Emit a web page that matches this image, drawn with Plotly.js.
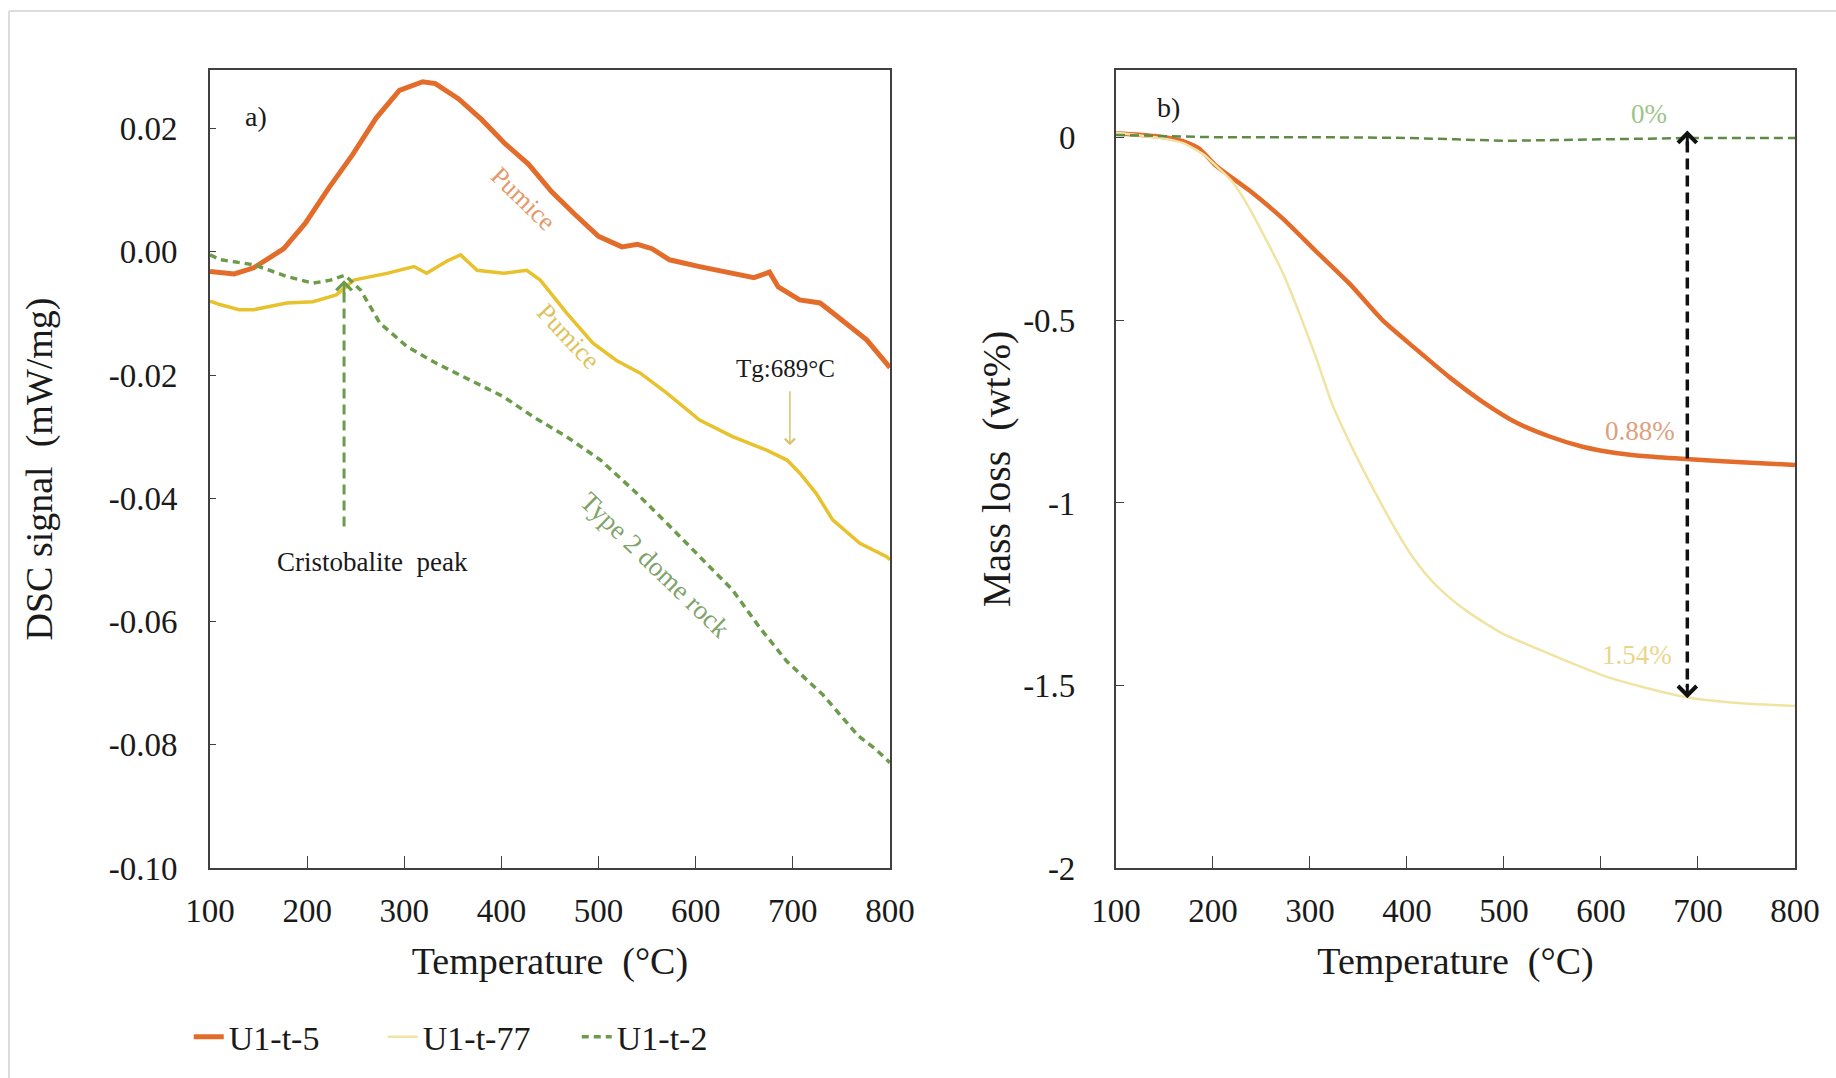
<!DOCTYPE html>
<html><head><meta charset="utf-8">
<script src="https://cdn.plot.ly/plotly-3.0.1.min.js"></script>
<style>html,body{margin:0;padding:0;background:#fff;}#chart{width:1836px;height:1078px;}</style>
</head><body><div id="chart"></div>
<script>
// ---- series names ----
const seriesNames = ["U1-t-5", "U1-t-77", "U1-t-2"];

// ---- a) DSC signal (mW/mg) vs temperature (°C) ----
const dscT_u5 = [100,125,145,160,176,198,222,247,271,295,319,332,356,380,404,428,452,476,500,524,540,555,573,604,638,660,676,685,707,728,741,759,776,800];
const dscV_u5 = [-0.0032,-0.0036,-0.0026,-0.0012,0.0005,0.0046,0.0103,0.0158,0.0217,0.0262,0.0276,0.0273,0.0248,0.0214,0.0175,0.0142,0.0097,0.0060,0.0025,0.0008,0.0012,0.0005,-0.0013,-0.0024,-0.0035,-0.0042,-0.0033,-0.0057,-0.0078,-0.0083,-0.0099,-0.0122,-0.0143,-0.0188];

const dscT_u77 = [100,111,130,145,179,206,230,248,282,310,323,344,358,375,402,426,440,467,494,518,543,570,604,638,673,694,707,724,741,769,797,800];
const dscV_u77 = [-0.0080,-0.0086,-0.0094,-0.0094,-0.0083,-0.0081,-0.0070,-0.0046,-0.0035,-0.0024,-0.0035,-0.0015,-0.0005,-0.0030,-0.0035,-0.0030,-0.0046,-0.0099,-0.0148,-0.0176,-0.0197,-0.0229,-0.0273,-0.0300,-0.0322,-0.0338,-0.0359,-0.0392,-0.0435,-0.0473,-0.0495,-0.0500];

const dscT_u2 = [100,111,145,179,206,224,239,255,275,303,333,368,402,433,467,502,536,570,604,638,666,694,731,767,785,800];
const dscV_u2 = [-0.0005,-0.0013,-0.0021,-0.0040,-0.0051,-0.0046,-0.0038,-0.0062,-0.0116,-0.0154,-0.0181,-0.0208,-0.0235,-0.0268,-0.0300,-0.0338,-0.0387,-0.0440,-0.0495,-0.0549,-0.0610,-0.0665,-0.0719,-0.0785,-0.0807,-0.0829];

// ---- b) Mass loss (wt%) vs temperature (°C) ----
const tgaT_u5 = [100,140,169,186,203,237,272,306,341,375,409,444,478,512,547,581,615,650,700,750,800];
const tgaV_u5 = [0.013,0.005,-0.009,-0.030,-0.076,-0.143,-0.221,-0.310,-0.400,-0.500,-0.578,-0.656,-0.723,-0.779,-0.818,-0.846,-0.863,-0.873,-0.882,-0.889,-0.896];

const tgaT_u77 = [100,150,170,190,203,220,237,255,272,289,306,323,341,358,375,392,409,426,444,461,478,500,535,571,607,644,680,716,752,800];
const tgaV_u77 = [0.014,-0.002,-0.015,-0.045,-0.076,-0.120,-0.190,-0.280,-0.370,-0.480,-0.600,-0.730,-0.835,-0.925,-1.010,-1.090,-1.160,-1.215,-1.260,-1.295,-1.325,-1.360,-1.400,-1.440,-1.477,-1.505,-1.528,-1.542,-1.550,-1.556];

const tgaT_u2 = [100,150,200,300,400,450,500,550,600,650,700,800];
const tgaV_u2 = [0.008,0.004,0.002,0.002,0.000,-0.004,-0.008,-0.006,-0.003,-0.002,0.000,0.000];

// ---- ticks ----
const xTickVals = [100,200,300,400,500,600,700,800];
const xTickText = ["100","200","300","400","500","600","700","800"];
const dscTickVals = [-0.10,-0.08,-0.06,-0.04,-0.02,0.00,0.02];
const dscTickText = ["-0.10","-0.08","-0.06","-0.04","-0.02","0.00","0.02"];
const tgaTickVals = [-2,-1.5,-1,-0.5,0];
const tgaTickText = ["-2","-1.5","-1","-0.5","0"];

// ---- annotation values ----
const cristobaliteT = 238, cristobaliteTop = -0.0046, cristobaliteBottom = -0.0446;
const tgT = 697, tgTop = -0.0224, tgBottom = -0.0314;
const lossT = 689, lossTop = 0.02, lossBottom = -1.535;
const lossLabels = ["0%", "0.88%", "1.54%"];

const FONT = "Liberation Serif, Times New Roman, serif";
const ORANGE = "#E36C2B";
const YELLOW_A = "#E8C22C";
const YELLOW_B = "#F1E3A2";
const GREEN = "#6C9C4B";

const traces = [
  {x: dscT_u5, y: dscV_u5, xaxis:"x", yaxis:"y", type:"scatter", mode:"lines", name: seriesNames[0],
   line:{color:ORANGE, width:5}, legendrank:1},
  {x: dscT_u77, y: dscV_u77, xaxis:"x", yaxis:"y", type:"scatter", mode:"lines", name: seriesNames[1],
   line:{color:YELLOW_A, width:3.5}, showlegend:false},
  {x: dscT_u2, y: dscV_u2, xaxis:"x", yaxis:"y", type:"scatter", mode:"lines", name: seriesNames[2],
   line:{color:GREEN, width:3.5, dash:"7px,5px"}, legendrank:3},
  {x: tgaT_u5, y: tgaV_u5, xaxis:"x2", yaxis:"y2", type:"scatter", mode:"lines", name: seriesNames[0],
   line:{color:ORANGE, width:4.5, shape:"spline", smoothing:0.6}, showlegend:false},
  {x: tgaT_u77, y: tgaV_u77, xaxis:"x2", yaxis:"y2", type:"scatter", mode:"lines", name: seriesNames[1],
   line:{color:YELLOW_B, width:2.5, shape:"spline", smoothing:0.6}, legendrank:2},
  {x: tgaT_u2, y: tgaV_u2, xaxis:"x2", yaxis:"y2", type:"scatter", mode:"lines", name: seriesNames[2],
   line:{color:"#5E8C47", width:2.5, dash:"9px,5px"}, showlegend:false}
];

const axisCommon = {
  showline:true, mirror:true, linecolor:"#404040", linewidth:2,
  showgrid:false, zeroline:false, ticks:"inside", tickcolor:"#404040",
  tickfont:{family:FONT, size:33, color:"#1a1a1a"}
};

const layout = {
  width:1836, height:1078,
  margin:{l:210, r:41, t:70, b:210},
  paper_bgcolor:"#fff", plot_bgcolor:"#fff",
  font:{family:FONT, color:"#1a1a1a"},
  showlegend:true,
  legend:{orientation:"h", x:-0.0134, xanchor:"left", y:-0.212, yanchor:"middle",
          font:{family:FONT, size:34, color:"#1a1a1a"}, entrywidth:149, entrywidthmode:"pixels",
          bgcolor:"rgba(0,0,0,0)", traceorder:"normal"},
  xaxis: Object.assign({}, axisCommon, {domain:[0,0.429], range:[100,800], tickvals:xTickVals, ticktext:xTickText,
          ticklen:12, ticklabelstandoff:12,
          title:{text:"Temperature  (°C)", font:{family:FONT, size:38, color:"#1a1a1a"}, standoff:20}}),
  yaxis: Object.assign({}, axisCommon, {domain:[0,1], range:[-0.10,0.0295], tickvals:dscTickVals, ticktext:dscTickText,
          ticklen:6, ticklabelstandoff:24,
          title:{text:"DSC signal  (mW/mg)", font:{family:FONT, size:38, color:"#1a1a1a"}, standoff:44}}),
  xaxis2: Object.assign({}, axisCommon, {domain:[0.5716,1], range:[100,800], tickvals:xTickVals, ticktext:xTickText,
          ticklen:12, ticklabelstandoff:12, anchor:"y2",
          title:{text:"Temperature  (°C)", font:{family:FONT, size:38, color:"#1a1a1a"}, standoff:20}}),
  yaxis2: Object.assign({}, axisCommon, {domain:[0,1], range:[-2,0.186], tickvals:tgaTickVals, ticktext:tgaTickText,
          ticklen:8, ticklabelstandoff:32, anchor:"x2",
          title:{text:"Mass loss  (wt%)", font:{family:FONT, size:40, color:"#1a1a1a"}, standoff:0}}),
  shapes:[
    // figure border (top and left edges)
    {type:"line", xref:"paper", yref:"paper", x0:-0.1268, x1:1.05, y0:1.074, y1:1.074, line:{color:"#dcdcdc", width:2}},
    {type:"line", xref:"paper", yref:"paper", x0:-0.1268, x1:-0.1268, y0:1.074, y1:-0.3, line:{color:"#dcdcdc", width:2}},
    // cristobalite dashed marker
    {type:"line", xref:"x", yref:"y", x0:cristobaliteT, x1:cristobaliteT, y0:cristobaliteBottom, y1:cristobaliteTop-0.0012,
     line:{color:GREEN, width:3, dash:"10px,6px"}},
    // mass loss dashed double arrow
    {type:"line", xref:"x2", yref:"y2", x0:lossT, x1:lossT, y0:lossTop-0.03, y1:lossBottom+0.03,
     line:{color:"#111", width:3.5, dash:"11px,6px"}}
  ],
  annotations:[
    {xref:"x", yref:"y", x:147, y:0.0219, text:"a)", showarrow:false, font:{family:FONT, size:28, color:"#1a1a1a"}},
    {xref:"x2", yref:"y2", x:154, y:0.084, text:"b)", showarrow:false, font:{family:FONT, size:28, color:"#1a1a1a"}},
    {xref:"x", yref:"y", x:422, y:0.0086, text:"Pumice", textangle:44, showarrow:false, font:{family:FONT, size:26, color:"#E49A6A"}},
    {xref:"x", yref:"y", x:469, y:-0.0138, text:"Pumice", textangle:47, showarrow:false, font:{family:FONT, size:26, color:"#DCC35A"}},
    {xref:"x", yref:"y", x:558, y:-0.0509, text:"Type 2 dome rock", textangle:44, showarrow:false, font:{family:FONT, size:27, color:"#7FA36A"}},
    {xref:"x", yref:"y", x:692, y:-0.0189, text:"Tg:689°C", showarrow:false, font:{family:FONT, size:25, color:"#1a1a1a"}},
    {xref:"x", yref:"y", x:tgT, y:tgBottom, axref:"x", ayref:"y", ax:tgT, ay:tgTop, text:"", showarrow:true,
     arrowhead:4, arrowsize:1.3, arrowwidth:1.5, arrowcolor:"#D6C472"},
    {xref:"x", yref:"y", x:267, y:-0.0503, text:"Cristobalite  peak", showarrow:false, font:{family:FONT, size:27, color:"#1a1a1a"}},
    {xref:"x", yref:"y", x:cristobaliteT, y:cristobaliteTop, ax:0, ay:16, text:"", showarrow:true,
     arrowhead:4, arrowsize:1.2, arrowwidth:2.5, arrowcolor:GREEN},
    {xref:"x2", yref:"y2", x:649, y:0.065, text:lossLabels[0], showarrow:false, font:{family:FONT, size:27, color:"#9CC48A"}},
    {xref:"x2", yref:"y2", x:640, y:-0.802, text:lossLabels[1], showarrow:false, font:{family:FONT, size:27, color:"#DDA07E"}},
    {xref:"x2", yref:"y2", x:637, y:-1.417, text:lossLabels[2], showarrow:false, font:{family:FONT, size:27, color:"#E9D68C"}},
    {xref:"x2", yref:"y2", x:lossT, y:lossTop, ax:0, ay:16, text:"", showarrow:true,
     arrowhead:4, arrowsize:1.2, arrowwidth:3, arrowcolor:"#111"},
    {xref:"x2", yref:"y2", x:lossT, y:lossBottom, ax:0, ay:-16, text:"", showarrow:true,
     arrowhead:4, arrowsize:1.2, arrowwidth:3, arrowcolor:"#111"}
  ]
};

Plotly.newPlot("chart", traces, layout, {displayModeBar:false, staticPlot:true});
</script>
</body></html>
